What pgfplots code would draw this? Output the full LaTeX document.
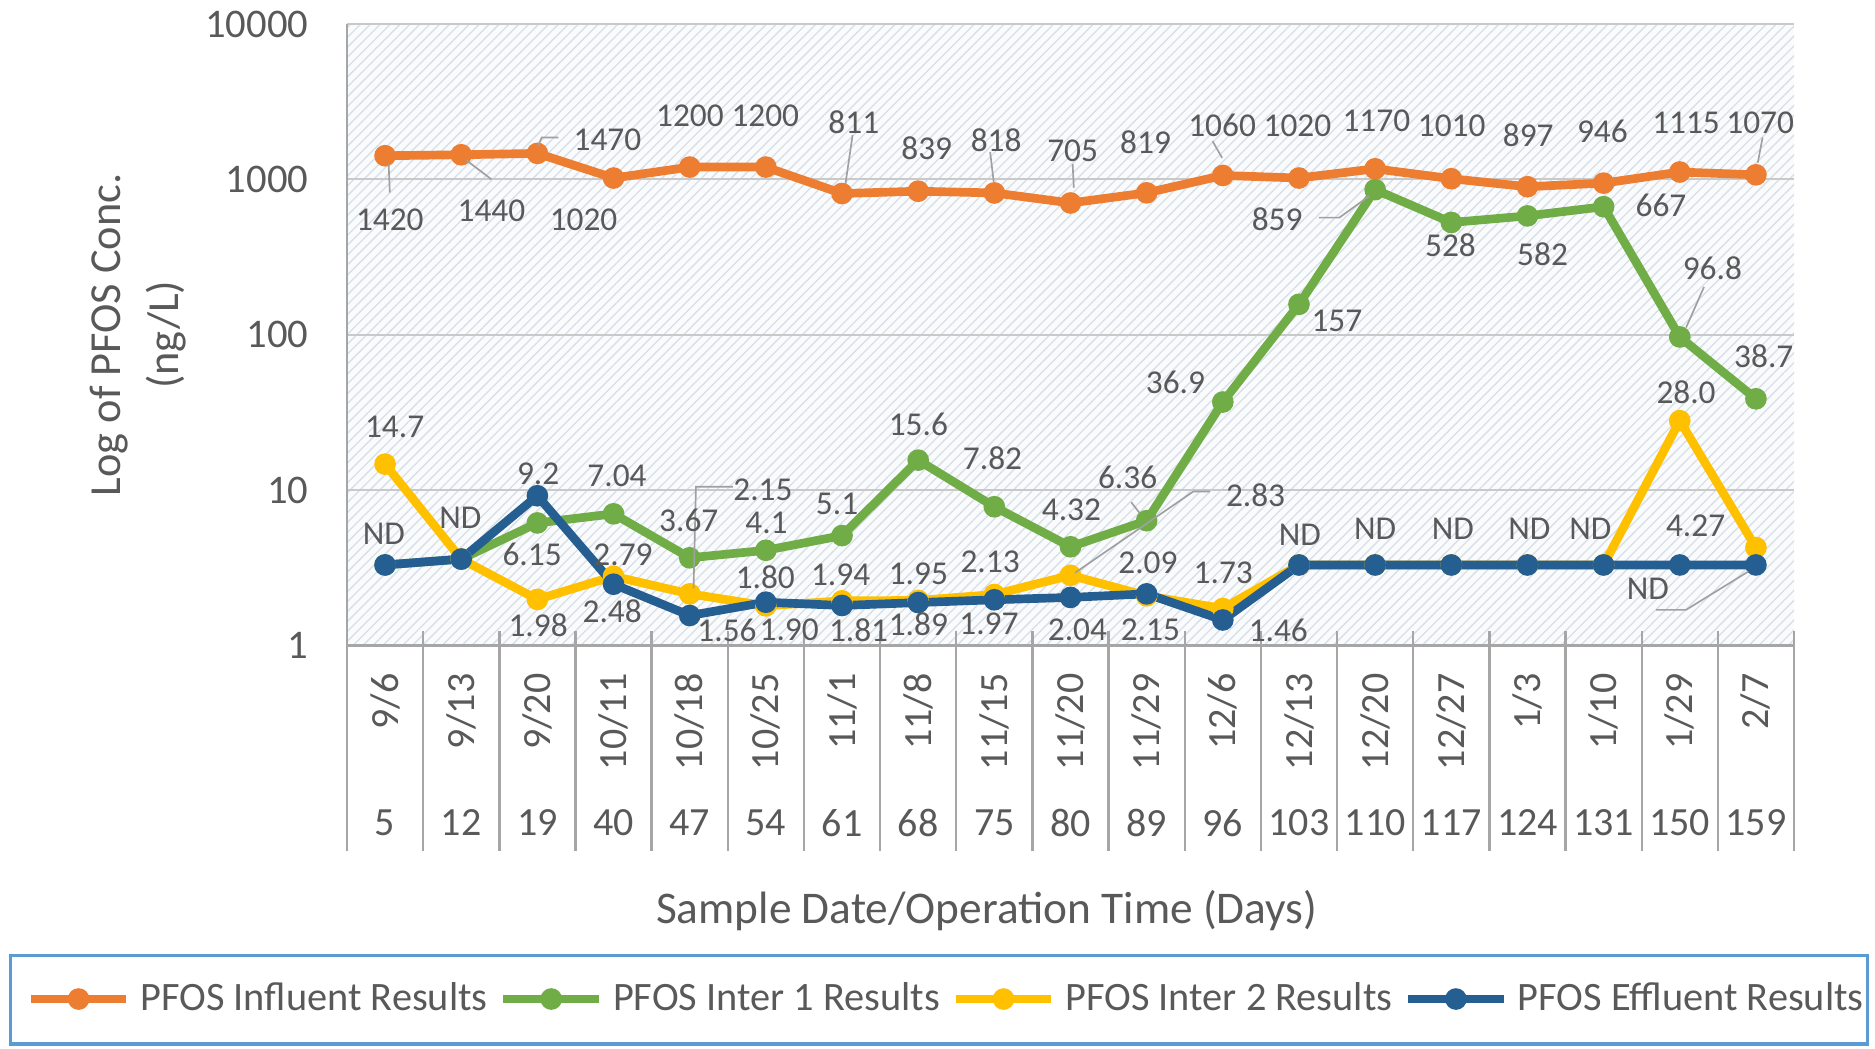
\documentclass[border=0pt]{standalone}
\usepackage{pgfplots}
\pgfplotsset{compat=1.18}
\usepackage{pgfplotstable}
\usepackage{fontspec}
\setmainfont{Carlito}
\usetikzlibrary{patterns.meta}
\definecolor{cOr}{HTML}{ED7D31}
\definecolor{cGr}{HTML}{70AD47}
\definecolor{cYe}{HTML}{FFC000}
\definecolor{cBl}{HTML}{255E91}
\definecolor{txt}{HTML}{595959}
\definecolor{gridc}{HTML}{C9C9C9}
\definecolor{axc}{HTML}{A6A6A6}
\definecolor{bgc}{HTML}{FAFBFD}
\definecolor{hatc}{HTML}{D8DFE7}
\definecolor{legc}{HTML}{5B9BD5}
\definecolor{ldr}{HTML}{A0A0A0}

\pgfplotstableread{
x inf gr ye bl
0 1420 3.3 14.7 3.3
1 1440 3.6 3.6 3.6
2 1470 6.15 1.98 9.2
3 1020 7.04 2.79 2.48
4 1200 3.67 2.15 1.56
5 1200 4.1 1.80 1.90
6 811 5.1 1.94 1.81
7 839 15.6 1.95 1.89
8 818 7.82 2.13 1.97
9 705 4.32 2.83 2.04
10 819 6.36 2.09 2.15
11 1060 36.9 1.73 1.46
12 1020 157 3.3 3.3
13 1170 859 3.3 3.3
14 1010 528 3.3 3.3
15 897 582 3.3 3.3
16 946 667 3.3 3.3
17 1115 96.8 28.0 3.3
18 1070 38.7 4.27 3.3
}\pfos

\newcommand{\lbl}[3]{\node[lab] at (#1,#2) {#3};}

\begin{document}
\begin{tikzpicture}[lab/.style={font=\fontsize{10}{12}\selectfont, text=txt, inner sep=0pt, anchor=center}]
\path[use as bounding box] (0,0) rectangle (562.5pt,314.4pt);
\begin{axis}[
  at={(104.1pt,120.75pt)}, anchor=south west,
  scale only axis, width=434.1pt, height=186.45pt,
  ymode=log, ymin=1, ymax=10000,
  xmin=-0.5, xmax=18.5,
  xtick={0,...,18},
  xticklabels={9/6,9/13,9/20,10/11,10/18,10/25,11/1,11/8,11/15,11/20,11/29,12/6,12/13,12/20,12/27,1/3,1/10,1/29,2/7},
  ytick={1,10,100,1000,10000}, yticklabels={1,10,100,1000,10000},
  major tick length=0pt, minor tick length=0pt, yminorticks=false,
  /pgf/number format/assume math mode=true,
  xticklabel style={yshift=-8.2pt, rotate=90, anchor=east, inner sep=0pt, font=\fontsize{12}{14}\selectfont, text=txt},
  yticklabel style={inner sep=0pt, xshift=-11.4pt, font=\fontsize{12.2}{14}\selectfont, text=txt},
  ymajorgrids, major grid style={gridc, line width=0.6pt},
  axis x line*=bottom, axis y line*=left,
  axis line style={axc, line width=0.8pt, -},
  axis background/.style={preaction={fill=bgc}, pattern={Lines[angle=45,distance=2.1pt,line width=0.4pt]}, pattern color=hatc},
  ylabel={Log of PFOS Conc.\\(ng/L)},
  ylabel style={at={(axis description cs:-0.1444,0.5)}, anchor=center, align=center, font=\fontsize{13.3}{17.4}\selectfont, text=txt},
  xlabel={Sample Date/Operation Time (Days)},
  xlabel style={at={(axis description cs:0.4421,-0.4272)}, anchor=center, font=\fontsize{13.6}{16}\selectfont, text=txt},
  legend columns=4,
  legend style={at={(0.4133,-0.5688)}, anchor=center, draw=none, fill=none,
    font=\fontsize{12.1}{14}\selectfont, text=txt, nodes={inner sep=0pt},
    /tikz/every odd column/.append style={column sep=2.9pt},
    /tikz/every even column/.append style={column sep=3.4pt}},
  legend image code/.code={\draw[#1,mark repeat=2,mark phase=2] plot coordinates {(0pt,0pt) (14.35pt,0pt) (28.7pt,0pt)};},
  clip=false,
]
\addplot[cOr, line width=2.6pt, mark=*, mark size=3pt, mark options={solid, line width=0.5pt, fill=cOr}] table[x=x,y=inf]{\pfos};
\addlegendentry{PFOS Influent Results}
\addplot[cGr, line width=2.6pt, mark=*, mark size=3pt, mark options={solid, line width=0.5pt, fill=cGr}] table[x=x,y=gr]{\pfos};
\addlegendentry{PFOS Inter 1 Results}
\addplot[cYe, line width=2.6pt, mark=*, mark size=3pt, mark options={solid, line width=0.5pt, fill=cYe}] table[x=x,y=ye]{\pfos};
\addlegendentry{PFOS Inter 2 Results}
\addplot[cBl, line width=2.6pt, mark=*, mark size=3pt, mark options={solid, line width=0.5pt, fill=cBl}] table[x=x,y=bl]{\pfos};
\addlegendentry{PFOS Effluent Results}
\end{axis}
\begin{scope}[x=0.35874pt, y=-0.35874pt, shift={(0pt,314.4pt)}]
% category separators
\foreach \k in {0,...,19} { \draw[axc, line width=0.7pt] ({290.2+63.69*\k},528) -- ({290.2+63.69*\k},712); }
% days row
\foreach \i/\d in {0/5,1/12,2/19,3/40,4/47,5/54,6/61,7/68,8/75,9/80,10/89,11/96,12/103,13/110,14/117,15/124,16/131,17/150,18/159}
  { \node[font=\fontsize{12}{14}\selectfont, text=txt, inner sep=0pt] at ({322.05+63.69*\i},688) {\d}; }
% legend frame
\draw[legc, line width=1pt] (9,799) rectangle (1562,873);
% leader lines
\begin{scope}[ldr, line width=0.5pt]
\draw (325,137) -- (326,161);
\draw (390,134) -- (411,150);
\draw (450,122) -- (453,115) -- (467,115);
\draw (713,113) -- (707,154);
\draw (828,127) -- (831,152);
\draw (897,137) -- (898,157);
\draw (1014,118) -- (1022,132);
\draw (1474,115) -- (1470,136);
\draw (613,407) -- (582,407) -- (580,492);
\draw (946,420) -- (953,429);
\draw (1012,411) -- (998,411) -- (899,479);
\draw (1103,182) -- (1120,182) -- (1145,164);
\draw (1425,240) -- (1410,274);
\draw (1385,510) -- (1410,510) -- (1462,478);
\end{scope}
% influent labels
\lbl{326}{184}{1420}\lbl{411}{176}{1440}\lbl{508}{117}{1470}\lbl{488}{184}{1020}
\lbl{577}{97}{1200}\lbl{640}{97}{1200}\lbl{714}{102}{811}\lbl{775}{124}{839}
\lbl{833}{117}{818}\lbl{897}{126}{705}\lbl{958}{119}{819}\lbl{1022}{105}{1060}
\lbl{1085}{105}{1020}\lbl{1151}{101}{1170}\lbl{1214}{105}{1010}\lbl{1278}{113}{897}
\lbl{1340}{110}{946}\lbl{1410}{103}{1115}\lbl{1472}{103}{1070}
% inter 1 labels
\lbl{445}{464}{6.15}\lbl{516}{398}{7.04}\lbl{576}{435}{3.67}\lbl{641}{437}{4.1}
\lbl{700}{421}{5.1}\lbl{768}{355}{15.6}\lbl{830}{383}{7.82}\lbl{896}{426}{4.32}
\lbl{943}{399}{6.36}\lbl{983}{320}{36.9}\lbl{1118}{268}{157}\lbl{1068}{183}{859}
\lbl{1213}{205}{528}\lbl{1290}{213}{582}\lbl{1389}{172}{667}\lbl{1432}{224}{96.8}
\lbl{1475}{298}{38.7}
% inter 2 labels
\lbl{330}{357}{14.7}\lbl{450}{523}{1.98}\lbl{521}{464}{2.79}\lbl{638}{410}{2.15}
\lbl{640}{483}{1.80}\lbl{703}{481}{1.94}\lbl{768}{480}{1.95}\lbl{828}{470}{2.13}
\lbl{1050}{414}{2.83}\lbl{960}{471}{2.09}\lbl{1023}{479}{1.73}\lbl{1410}{328}{28.0}
\lbl{1418}{440}{4.27}
% effluent labels
\lbl{321}{446}{ND}\lbl{385}{433}{ND}\lbl{450}{396}{9.2}\lbl{512}{511}{2.48}
\lbl{608}{527}{1.56}\lbl{660}{527}{1.90}\lbl{718}{527}{1.81}\lbl{768}{522}{1.89}
\lbl{827}{522}{1.97}\lbl{901}{527}{2.04}\lbl{962}{527}{2.15}\lbl{1069}{527}{1.46}
\lbl{1087}{447}{ND}\lbl{1150}{442}{ND}\lbl{1215}{442}{ND}\lbl{1279}{442}{ND}
\lbl{1330}{442}{ND}\lbl{1378}{492}{ND}
\end{scope}
\end{tikzpicture}
\end{document}
